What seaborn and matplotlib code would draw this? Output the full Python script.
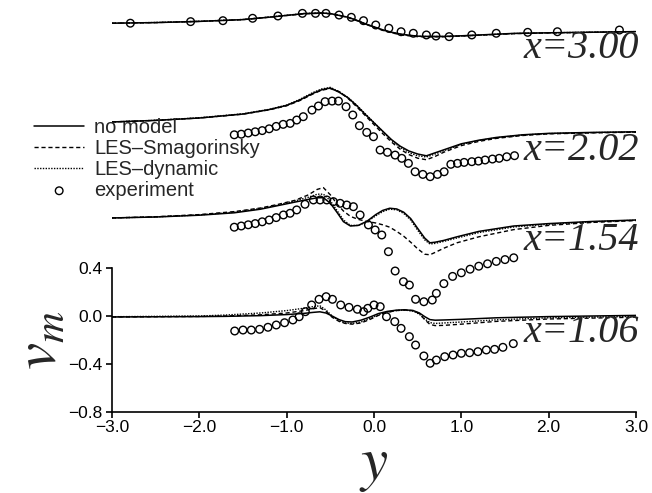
import numpy as np
import matplotlib
matplotlib.use("Agg")
import matplotlib.pyplot as plt
import seaborn as sns
from matplotlib.ticker import FuncFormatter

# ---------------- data ----------------
stations = ["x=1.06", "x=1.54", "x=2.02", "x=3.00"]
offsets = [0.0, 0.80, 1.53, 2.40]          # vertical shift of each profile
label_v = [-0.14, 0.63, 1.38, 2.23]        # where the station label sits

# x = 1.06
y_mod_106 = [-3.0, -2.0, -1.7, -1.3, -1.0, -0.8, -0.7, -0.62, -0.55, -0.48, -0.4, -0.33, -0.25, -0.15,
             -0.05, 0.05, 0.15, 0.25, 0.35, 0.45, 0.52, 0.58, 0.64, 0.7, 0.8, 1.0, 1.4, 2.0, 3.0]
nomodel_106 = [-0.008, -0.005, -0.003, 0.003, 0.012, 0.022, 0.03, 0.035, 0.025, 0.0, -0.03, -0.047, -0.05, -0.035,
               -0.01, 0.02, 0.038, 0.048, 0.052, 0.045, 0.025, -0.005, -0.03, -0.035, -0.033, -0.028, -0.015, -0.005, 0.005]
smag_106 = [-0.008, -0.004, 0.0, 0.01, 0.025, 0.045, 0.06, 0.07, 0.04, -0.01, -0.045, -0.062, -0.068, -0.058,
            -0.03, 0.005, 0.03, 0.045, 0.05, 0.045, 0.02, -0.03, -0.07, -0.08, -0.078, -0.068, -0.045, -0.025, -0.01]
dyn_106 = [-0.006, 0.0, 0.008, 0.025, 0.045, 0.065, 0.078, 0.085, 0.05, 0.0, -0.04, -0.058, -0.062, -0.05,
           -0.022, 0.01, 0.032, 0.045, 0.05, 0.04, 0.015, -0.025, -0.055, -0.062, -0.058, -0.05, -0.032, -0.015, -0.003]
y_exp_106 = [-1.595, -1.5, -1.405, -1.31, -1.214, -1.119, -1.024, -0.929, -0.857, -0.786, -0.714, -0.629, -0.548,
             -0.476, -0.381, -0.286, -0.19, -0.119, -0.071, 0.0, 0.071, 0.143, 0.238, 0.31, 0.405, 0.476, 0.571,
             0.643, 0.714, 0.81, 0.905, 1.0, 1.095, 1.19, 1.286, 1.381, 1.476, 1.595]
exp_106 = [-0.125, -0.117, -0.117, -0.111, -0.094, -0.075, -0.056, -0.033, -0.006, 0.036, 0.092, 0.139, 0.161,
           0.139, 0.092, 0.072, 0.056, 0.036, 0.064, 0.092, 0.078, -0.006, -0.047, -0.103, -0.172, -0.242, -0.333,
           -0.394, -0.367, -0.339, -0.325, -0.311, -0.306, -0.297, -0.283, -0.278, -0.261, -0.23]

# x = 1.54
y_mod_154 = [-3.0, -2.5, -2.0, -1.6, -1.3, -1.1, -0.9, -0.75, -0.65, -0.58, -0.5, -0.42, -0.35, -0.27, -0.18,
             -0.08, 0.02, 0.1, 0.18, 0.26, 0.34, 0.42, 0.5, 0.58, 0.64, 0.7, 0.8, 0.95, 1.2, 1.6, 2.0, 2.5, 3.0]
nomodel_154 = [0.017, 0.025, 0.04, 0.06, 0.09, 0.12, 0.15, 0.172, 0.185, 0.186, 0.14, 0.06, -0.014, -0.05, -0.045,
               -0.01, 0.045, 0.08, 0.098, 0.092, 0.065, 0.012, -0.07, -0.15, -0.19, -0.185, -0.17, -0.14, -0.095,
               -0.05, -0.03, -0.012, 0.0]
smag_154 = [0.017, 0.027, 0.045, 0.07, 0.10, 0.13, 0.165, 0.21, 0.255, 0.27, 0.21, 0.13, 0.075, 0.03, 0.005,
            -0.012, -0.025, -0.04, -0.06, -0.095, -0.135, -0.185, -0.24, -0.285, -0.29, -0.27, -0.235, -0.19,
            -0.14, -0.08, -0.045, -0.02, -0.005]
dyn_154 = [0.017, 0.026, 0.042, 0.065, 0.095, 0.125, 0.16, 0.19, 0.215, 0.215, 0.16, 0.075, 0.0, -0.045, -0.045,
           -0.015, 0.035, 0.07, 0.09, 0.085, 0.055, 0.0, -0.085, -0.165, -0.2, -0.195, -0.178, -0.15, -0.105,
           -0.058, -0.035, -0.015, -0.002]
y_exp_154 = [-1.6, -1.52, -1.44, -1.36, -1.28, -1.2, -1.12, -1.037, -0.961, -0.885, -0.79, -0.694, -0.617, -0.541,
             -0.465, -0.388, -0.312, -0.236, -0.159, -0.064, 0.013, 0.089, 0.165, 0.242, 0.337, 0.405, 0.476,
             0.571, 0.667, 0.714, 0.8, 0.9, 1.0, 1.1, 1.2, 1.3, 1.4, 1.5, 1.6]
exp_154 = [-0.06, -0.05, -0.04, -0.03, -0.015, 0.0, 0.02, 0.042, 0.056, 0.084, 0.131, 0.167, 0.167, 0.167, 0.153,
           0.139, 0.125, 0.111, 0.042, -0.041, -0.083, -0.125, -0.264, -0.425, -0.514, -0.542, -0.661, -0.681,
           -0.667, -0.611, -0.53, -0.47, -0.44, -0.41, -0.385, -0.365, -0.345, -0.33, -0.315]

# x = 2.02
y_mod_202 = [-3.0, -2.5, -2.0, -1.5, -1.2, -1.0, -0.85, -0.7, -0.6, -0.5, -0.4, -0.3, -0.2, -0.1, 0.0, 0.1,
             0.2, 0.3, 0.4, 0.5, 0.6, 0.7, 0.8, 1.0, 1.2, 1.4, 1.7, 2.0, 2.5, 3.0]
nomodel_202 = [0.087, 0.10, 0.12, 0.153, 0.19, 0.225, 0.27, 0.325, 0.355, 0.37, 0.335, 0.29, 0.225, 0.15, 0.08,
               0.01, -0.06, -0.115, -0.155, -0.18, -0.195, -0.17, -0.145, -0.095, -0.065, -0.042, -0.02, -0.008,
               0.0, 0.005]
smag_202 = [0.087, 0.10, 0.12, 0.152, 0.188, 0.222, 0.265, 0.32, 0.352, 0.365, 0.34, 0.285, 0.215, 0.14, 0.065,
            -0.01, -0.08, -0.14, -0.185, -0.215, -0.228, -0.2, -0.165, -0.11, -0.075, -0.05, -0.026, -0.012,
            -0.004, 0.002]
dyn_202 = [0.087, 0.101, 0.122, 0.155, 0.192, 0.228, 0.275, 0.332, 0.362, 0.375, 0.34, 0.292, 0.228, 0.155, 0.082,
           0.008, -0.065, -0.125, -0.168, -0.195, -0.205, -0.18, -0.152, -0.1, -0.068, -0.045, -0.022, -0.01,
           -0.002, 0.004]
y_exp_202 = [-1.6, -1.52, -1.44, -1.36, -1.28, -1.2, -1.12, -1.04, -0.96, -0.885, -0.81, -0.71, -0.636, -0.56,
             -0.48, -0.407, -0.32, -0.243, -0.167, -0.083, -0.006, 0.07, 0.154, 0.242, 0.318, 0.394, 0.471, 0.559,
             0.643, 0.727, 0.803, 0.88, 0.956, 1.032, 1.12, 1.196, 1.272, 1.356, 1.433, 1.52, 1.609]
exp_202 = [-0.02, -0.015, -0.005, 0.005, 0.015, 0.03, 0.05, 0.067, 0.075, 0.103, 0.131, 0.186, 0.22, 0.256, 0.261,
           0.261, 0.214, 0.145, 0.056, 0.0, -0.036, -0.147, -0.166, -0.189, -0.216, -0.258, -0.328, -0.35, -0.369,
           -0.35, -0.328, -0.266, -0.258, -0.25, -0.244, -0.239, -0.23, -0.222, -0.216, -0.203, -0.194]

# x = 3.00
y_mod_300 = [-3.0, -2.5, -2.0, -1.5, -1.2, -1.0, -0.8, -0.6, -0.5, -0.4, -0.3, -0.2, -0.1, 0.0, 0.1, 0.2, 0.3,
             0.4, 0.5, 0.6, 0.8, 1.0, 1.3, 1.6, 2.0, 2.5, 3.0]
nomodel_300 = [0.04, 0.045, 0.055, 0.07, 0.09, 0.105, 0.12, 0.125, 0.12, 0.105, 0.09, 0.065, 0.035, 0.01, -0.015,
               -0.035, -0.05, -0.06, -0.068, -0.07, -0.07, -0.065, -0.055, -0.045, -0.04, -0.035, -0.03]
smag_300 = [0.04, 0.045, 0.055, 0.07, 0.09, 0.104, 0.118, 0.123, 0.118, 0.104, 0.088, 0.062, 0.032, 0.006, -0.02,
            -0.04, -0.055, -0.065, -0.072, -0.074, -0.073, -0.067, -0.057, -0.047, -0.041, -0.036, -0.031]
dyn_300 = [0.04, 0.046, 0.056, 0.071, 0.091, 0.106, 0.121, 0.126, 0.121, 0.106, 0.09, 0.064, 0.034, 0.008,
           -0.017, -0.037, -0.052, -0.062, -0.069, -0.071, -0.071, -0.066, -0.056, -0.046, -0.04, -0.035, -0.03]
y_exp_300 = [-2.79, -2.10, -1.73, -1.39, -1.10, -0.82, -0.67, -0.55, -0.40, -0.26, -0.12, 0.02, 0.17, 0.31,
             0.45, 0.60, 0.71, 0.86, 1.12, 1.40, 1.76, 2.10, 2.81]
exp_300 = [0.04, 0.053, 0.061, 0.081, 0.10, 0.122, 0.122, 0.122, 0.108, 0.089, 0.061, 0.025, -0.002, -0.031,
           -0.044, -0.058, -0.067, -0.072, -0.058, -0.044, -0.036, -0.031, -0.017]

y_mod = [y_mod_106, y_mod_154, y_mod_202, y_mod_300]
nomodel = [nomodel_106, nomodel_154, nomodel_202, nomodel_300]
smag = [smag_106, smag_154, smag_202, smag_300]
dyn = [dyn_106, dyn_154, dyn_202, dyn_300]
y_exp = [y_exp_106, y_exp_154, y_exp_202, y_exp_300]
exp = [exp_106, exp_154, exp_202, exp_300]

# ---------------- plot ----------------
sns.set_theme(style="ticks")
plt.rcParams["font.family"] = ["Liberation Sans", "DejaVu Sans"]
plt.rcParams["mathtext.fontset"] = "stix"

fig = plt.figure(figsize=(6.52, 4.93), dpi=100)
ax = fig.add_axes([112 / 652, 81 / 493, 524 / 652, 412 / 493])

for i in range(len(stations)):
    off = offsets[i]
    first = i == 0
    sns.lineplot(x=y_mod[i], y=np.array(nomodel[i]) + off, ax=ax, color="black", lw=1.1,
                 label="no model" if first else None, legend=False)
    sns.lineplot(x=y_mod[i], y=np.array(smag[i]) + off, ax=ax, color="black", lw=1.0,
                 linestyle=(0, (3, 2)), label="LES\u2013Smagorinsky" if first else None, legend=False)
    sns.lineplot(x=y_mod[i], y=np.array(dyn[i]) + off, ax=ax, color="black", lw=1.0,
                 linestyle=(0, (1, 1)), label="LES\u2013dynamic" if first else None, legend=False)
    sns.scatterplot(x=y_exp[i], y=np.array(exp[i]) + off, ax=ax, marker="o", s=30,
                    facecolor="none", edgecolor="black", linewidth=1.0, zorder=3, clip_on=False,
                    label="experiment" if first else None, legend=False)
    ax.text(3.03, label_v[i], stations[i], ha="right", va="center", fontsize=29,
            family="Liberation Serif", style="italic")

ax.set_xlim(-3, 3)
ax.set_ylim(-0.8, 316 / 120)
ax.set_xticks([-3, -2, -1, 0, 1, 2, 3])
ax.set_yticks([-0.8, -0.4, 0.0, 0.4])
minus_fmt = FuncFormatter(lambda v, pos: f"{v:.1f}".replace("-", "\u2212"))
ax.xaxis.set_major_formatter(minus_fmt)
ax.yaxis.set_major_formatter(minus_fmt)
ax.tick_params(direction="out", length=4, width=1.2, labelsize=12.5, colors="black")
ax.tick_params(axis="x", pad=2)
ax.tick_params(axis="y", pad=3)
sns.despine(ax=ax)
ax.spines["left"].set_bounds(-0.8, 0.4)
ax.spines["bottom"].set_bounds(-3, 3)
for s in ("left", "bottom"):
    ax.spines[s].set_linewidth(1.2)
    ax.spines[s].set_color("black")
ax.patch.set_alpha(0)

ax.set_xlabel(r"$y$", fontsize=44, va="center")
ax.xaxis.set_label_coords(0.5, (412 - 465) / 412)
ax.set_ylabel(r"$v_m$", fontsize=44, va="center")
ax.yaxis.set_label_coords((40 - 112) / 524, (412 - 340) / 412)

handles, labels = ax.get_legend_handles_labels()
fig.legend(handles, labels, loc="upper left", bbox_to_anchor=(34 / 652, 1 - 118 / 493),
           frameon=False, fontsize=14.5, handlelength=2.5, handletextpad=0.5,
           labelspacing=0.1, borderpad=0, borderaxespad=0)

fig.savefig("out.png", dpi=100)
